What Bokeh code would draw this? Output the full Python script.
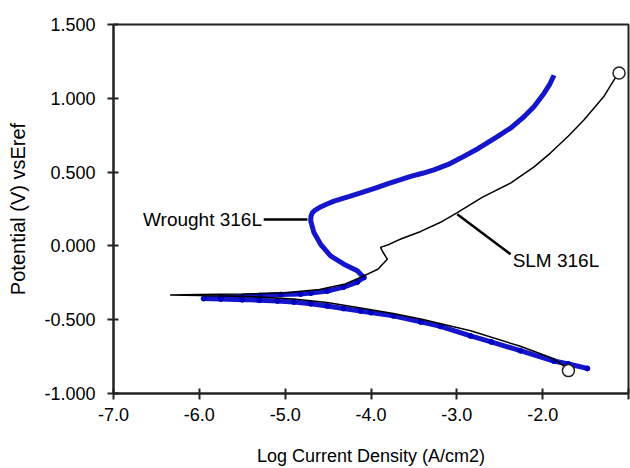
from bokeh.plotting import figure
from bokeh.models import Label, PrintfTickFormatter, FixedTicker
from bokeh.embed import file_html
from bokeh.resources import INLINE

# ---- data ----
# SLM 316L (black): cathodic branch from its end back to Ecorr, then anodic branch
slm_x = [-1.70, -1.87, -2.26, -2.84, -3.42, -3.74, -4.12, -4.51, -4.90, -5.30, -5.70, -6.00, -6.34,
         -6.00, -5.50, -5.00, -4.60, -4.30, -4.09, -3.92, -3.81, -3.86, -3.89, -3.79, -3.66,
         -3.42, -3.19, -3.00, -2.70, -2.37, -2.10, -1.91, -1.70, -1.52, -1.29, -1.17, -1.11]
slm_y = [-0.835, -0.765, -0.68, -0.575, -0.495, -0.458, -0.420, -0.384, -0.360, -0.346, -0.339, -0.336, -0.333,
         -0.330, -0.326, -0.318, -0.295, -0.258, -0.205, -0.158, -0.09, -0.043, -0.01, 0.01, 0.045,
         0.098, 0.16, 0.224, 0.33, 0.427, 0.535, 0.629, 0.745, 0.853, 1.010, 1.123, 1.172]

# Wrought 316L (blue): cathodic branch, Ecorr, anodic loop, passive rise
wr_x = [-1.48, -1.70, -1.87, -2.26, -2.60, -2.84, -3.19, -3.42, -3.74, -4.00, -4.12, -4.32, -4.51,
        -4.70, -4.90, -5.09, -5.30, -5.50, -5.75, -5.95,
        -5.75, -5.50, -5.29, -5.05, -4.82, -4.70, -4.51, -4.32, -4.16, -4.083,
        -4.16, -4.316, -4.471, -4.587, -4.665, -4.702, -4.700, -4.684, -4.650, -4.606, -4.52, -4.431,
        -4.25, -4.121, -3.95, -3.80, -3.655, -3.538, -3.40, -3.267, -3.10, -2.956, -2.75, -2.528,
        -2.37, -2.218, -2.10, -1.985, -1.92, -1.868]
wr_y = [-0.83, -0.80, -0.78, -0.71, -0.65, -0.61, -0.545, -0.515, -0.474, -0.452, -0.441, -0.424, -0.407,
        -0.392, -0.380, -0.373, -0.368, -0.364, -0.360, -0.357,
        -0.352, -0.345, -0.336, -0.330, -0.326, -0.319, -0.306, -0.279, -0.245, -0.214,
        -0.169, -0.124, -0.068, 0.011, 0.090, 0.168, 0.200, 0.224, 0.243, 0.258, 0.282, 0.303,
        0.335, 0.359, 0.392, 0.422, 0.449, 0.471, 0.492, 0.515, 0.552, 0.595, 0.660, 0.741,
        0.800, 0.875, 0.945, 1.033, 1.092, 1.156]

# end-of-scan open circles on the SLM curve
end_x = [-1.11, -1.70]
end_y = [1.172, -0.845]

x_ticks = [-7.0, -6.0, -5.0, -4.0, -3.0, -2.0, -1.0]
y_ticks = [-1.0, -0.5, 0.0, 0.5, 1.0, 1.5]

FONT = "Liberation Sans"

p = figure(width=630, height=468, output_backend="svg", toolbar_location=None,
           x_range=(-7.0, -1.0), y_range=(-1.0, 1.5),
           min_border_left=113, min_border_right=2, min_border_top=24, min_border_bottom=73)
p.grid.visible = False
p.outline_line_color = "#222222"
p.outline_line_width = 2
p.background_fill_color = "white"
p.border_fill_color = "white"

for ax in (p.xaxis[0], p.yaxis[0]):
    ax.axis_line_color = "#222222"
    ax.axis_line_width = 2
    ax.major_tick_line_color = "#222222"
    ax.major_tick_line_width = 2
    ax.major_tick_out = 6
    ax.major_tick_in = 5
    ax.minor_tick_line_color = None
    ax.major_label_text_font = FONT
    ax.major_label_text_font_size = "18px"
    ax.major_label_text_color = "black"
    ax.axis_label_text_font = FONT
    ax.axis_label_text_font_style = "normal"
    ax.axis_label_text_color = "black"

p.xaxis.ticker = FixedTicker(ticks=x_ticks)
p.yaxis.ticker = FixedTicker(ticks=y_ticks)
p.xaxis.formatter = PrintfTickFormatter(format="%.1f")
p.yaxis.formatter = PrintfTickFormatter(format="%.3f")
p.xaxis.major_label_overrides = {-1.0: ""}
p.xaxis.major_label_standoff = 8
p.yaxis.major_label_standoff = 12
p.xaxis.axis_label = "Log Current Density (A/cm2)"
p.yaxis.axis_label = "Potential (V) vsEref"
p.xaxis.axis_label_text_font_size = "18px"
p.yaxis.axis_label_text_font_size = "20px"
p.xaxis.axis_label_standoff = 22
p.yaxis.axis_label_standoff = 12

# curves
p.line(wr_x, wr_y, line_color="#0808c8", line_width=5, line_alpha=0.95)
p.scatter(wr_x[:30], wr_y[:30], size=5, fill_color="#0000c0", line_color="#0000c0")
p.line(slm_x, slm_y, line_color="black", line_width=1.5)
p.scatter(end_x, end_y, size=12, marker="circle", fill_color="white",
          line_color="#222222", line_width=1.5)

# annotations
p.segment(x0=[-5.25, -2.995], y0=[0.179, 0.215], x1=[-4.74, -2.373], y1=[0.179, -0.057],
          line_color="black", line_width=2.5)
p.add_layout(Label(x=-5.27, y=0.179, text="Wrought 316L", text_align="right",
                   text_baseline="middle", text_font=FONT, text_font_size="19px",
                   text_color="black"))
p.add_layout(Label(x=-2.35, y=-0.10, text="SLM 316L", text_align="left",
                   text_baseline="middle", text_font=FONT, text_font_size="19px",
                   text_color="black"))

open("out.html", "w").write(file_html(p, INLINE))
